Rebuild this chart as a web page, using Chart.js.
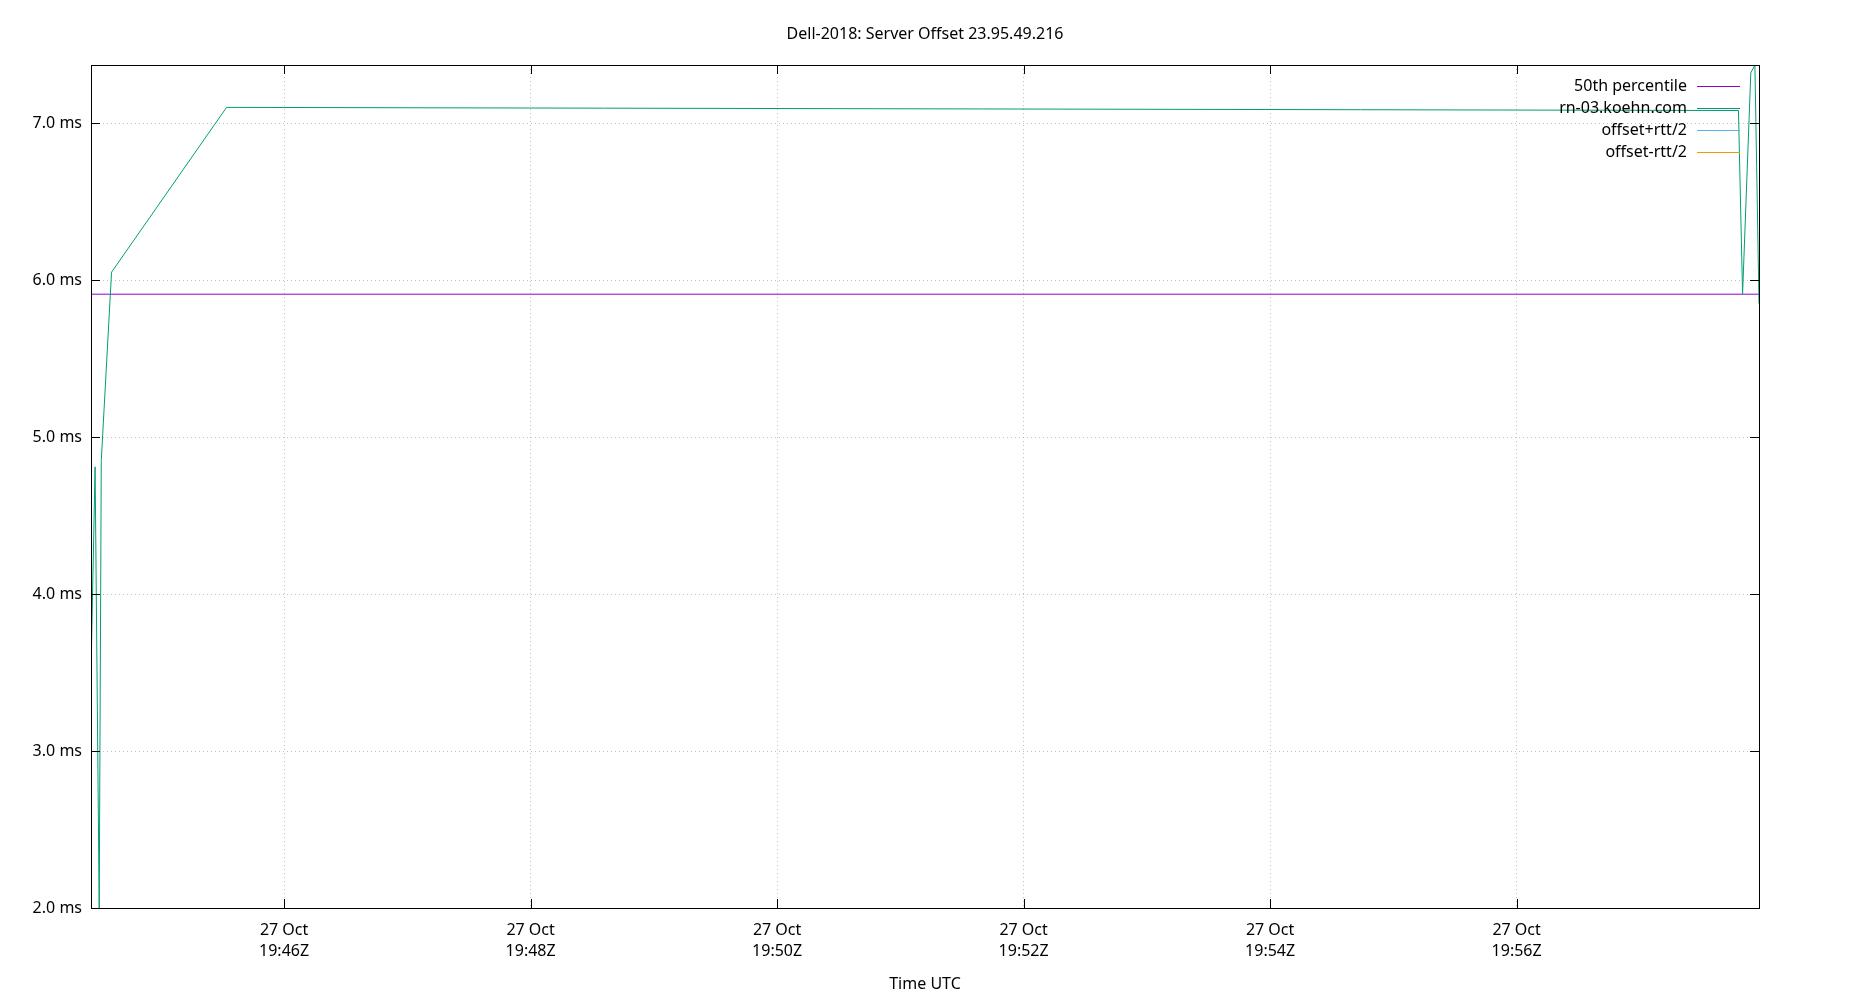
<!DOCTYPE html>
<html>
<head>
<meta charset="utf-8">
<title>Dell-2018: Server Offset 23.95.49.216</title>
<script src="https://cdn.jsdelivr.net/npm/chart.js@4.4.0/dist/chart.umd.min.js"></script>
<style>
  html, body { margin: 0; padding: 0; background: #fff; }
  #wrap { width: 1850px; height: 1000px; }
</style>
</head>
<body>
<div id="wrap"><canvas id="offsetChart" width="1850" height="1000"></canvas></div>
<script>
const chartTitle = 'Dell-2018: Server Offset 23.95.49.216';
const xAxisTitle = 'Time UTC';
const dayLabel = '27 Oct';

// samples (UTC time, offset in ms)
const sampleTimes = ['19:44:26', '19:44:28', '19:44:30', '19:44:31', '19:44:36', '19:45:32',
                     '19:57:48', '19:57:50', '19:57:54', '19:57:56', '19:57:58'];
const offsetMs = [3.50, 4.81, 2.00, 4.85, 6.05, 7.10, 7.08, 5.91, 7.32, 7.37, 5.85];
const percentile50 = 5.91;
const offsetPlusRtt = [];
const offsetMinusRtt = [];

const xTickTimes = ['19:46', '19:48', '19:50', '19:52', '19:54', '19:56'];
const yTickValues = [2, 3, 4, 5, 6, 7];
const yMin = 2.0;
const yMax = 7.37;

const seriesNames = ['50th percentile', 'rn-03.koehn.com', 'offset+rtt/2', 'offset-rtt/2'];
const seriesColors = ['#9400d3', '#009e73', '#56b4e9', '#e69f00'];

const FONT = '"Noto Sans", "Open Sans", sans-serif';

function toSec(t) {
  const p = t.split(':').map(Number);
  return p[0] * 3600 + p[1] * 60 + (p[2] || 0);
}
function fmtTime(sec) {
  const h = Math.floor(sec / 3600);
  const m = Math.floor((sec % 3600) / 60);
  return String(h).padStart(2, '0') + ':' + String(m).padStart(2, '0') + 'Z';
}

const xs = sampleTimes.map(toSec);
const xMin = xs[0];
const xMax = xs[xs.length - 1];

const mainPoints = xs.map((x, i) => ({ x: x, y: offsetMs[i] }));
const pctPoints = [{ x: xMin, y: percentile50 }, { x: xMax, y: percentile50 }];

// gnuplot-ish frame, inward ticks, legend and title
const gnuplotLook = {
  id: 'gnuplotLook',
  afterDraw(chart) {
    const ctx = chart.ctx;
    const a = chart.chartArea;
    const xs_ = chart.scales.x, ys_ = chart.scales.y;
    ctx.save();
    ctx.strokeStyle = '#000';
    ctx.lineWidth = 1;
    ctx.strokeRect(Math.round(a.left) + 0.5, Math.round(a.top) + 0.5,
                   Math.round(a.right - a.left), Math.round(a.bottom - a.top));
    ctx.beginPath();
    yTickValues.forEach(v => {
      const y = Math.round(ys_.getPixelForValue(v)) + 0.5;
      ctx.moveTo(a.left, y); ctx.lineTo(a.left + 9, y);
      ctx.moveTo(a.right - 9, y); ctx.lineTo(a.right, y);
    });
    xTickTimes.forEach(t => {
      const x = Math.round(xs_.getPixelForValue(toSec(t))) + 0.5;
      ctx.moveTo(x, a.bottom); ctx.lineTo(x, a.bottom - 9);
      ctx.moveTo(x, a.top); ctx.lineTo(x, a.top + 9);
    });
    ctx.stroke();

    // title
    ctx.fillStyle = '#000';
    ctx.font = '16px ' + FONT;
    ctx.textAlign = 'center';
    ctx.textBaseline = 'middle';
    ctx.fillText(chartTitle, chart.width / 2, 34);

    // legend
    ctx.textAlign = 'right';
    chart.data.datasets.forEach((ds, i) => {
      const y = 86 + i * 22;
      ctx.fillStyle = '#000';
      ctx.fillText(ds.label, 1687, y);
      ctx.strokeStyle = ds.borderColor;
      ctx.beginPath();
      ctx.moveTo(1697, Math.round(y) + 0.5);
      ctx.lineTo(1740, Math.round(y) + 0.5);
      ctx.stroke();
    });
    ctx.restore();
  }
};

const tickFont = { family: FONT, size: 16 };

new Chart(document.getElementById('offsetChart'), {
  type: 'line',
  data: {
    datasets: [
      { label: seriesNames[0], data: pctPoints, borderColor: seriesColors[0], order: 3 },
      { label: seriesNames[1], data: mainPoints, borderColor: seriesColors[1], order: 0 },
      { label: seriesNames[2], data: offsetPlusRtt, borderColor: seriesColors[2], order: 1 },
      { label: seriesNames[3], data: offsetMinusRtt, borderColor: seriesColors[3], order: 2 }
    ]
  },
  options: {
    responsive: false,
    animation: false,
    devicePixelRatio: 1,
    parsing: false,
    elements: {
      line: { borderWidth: 1, tension: 0, fill: false },
      point: { radius: 0, hoverRadius: 0 }
    },
    layout: { padding: { top: 65, right: 91, left: 0, bottom: 0 } },
    plugins: {
      legend: { display: false },
      title: { display: false },
      tooltip: { enabled: false }
    },
    scales: {
      x: {
        type: 'linear',
        min: xMin,
        max: xMax,
        afterBuildTicks: s => { s.ticks = xTickTimes.map(t => ({ value: toSec(t) })); },
        afterFit: s => { s.height = 92; },
        grid: { color: 'rgba(160,160,160,0.65)', drawTicks: false },
        border: { display: false, dash: [1, 3] },
        ticks: {
          padding: 12,
          color: '#000',
          font: { family: FONT, size: 16, lineHeight: 1.33 },
          maxRotation: 0,
          autoSkip: false,
          callback: v => [dayLabel, fmtTime(v)]
        },
        title: {
          display: true,
          text: xAxisTitle,
          color: '#000',
          font: tickFont,
          padding: { top: 0, bottom: 6 }
        }
      },
      y: {
        type: 'linear',
        min: yMin,
        max: yMax,
        afterBuildTicks: s => { s.ticks = yTickValues.map(v => ({ value: v })); },
        afterFit: s => { s.width = 91; },
        grid: { color: 'rgba(160,160,160,0.65)', drawTicks: false },
        border: { display: false, dash: [1, 3] },
        ticks: {
          padding: 9,
          color: '#000',
          font: tickFont,
          callback: v => v.toFixed(1) + ' ms'
        }
      }
    }
  },
  plugins: [gnuplotLook]
});
</script>
</body>
</html>
